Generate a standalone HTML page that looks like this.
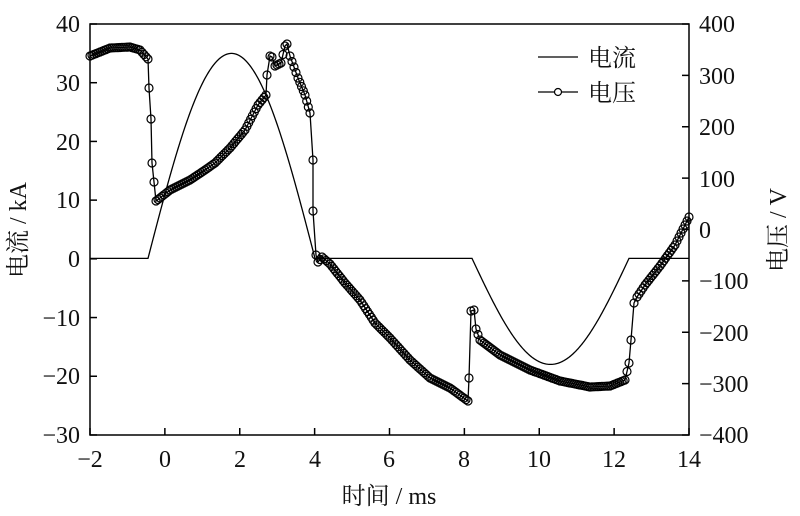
<!DOCTYPE html>
<html><head><meta charset="utf-8"><style>
body{margin:0;background:#fff}
svg{display:block}
text{font-family:"Liberation Serif","Noto Serif CJK SC",serif;font-size:24px;fill:#111}
</style></head><body>
<svg id="s" width="800" height="516" viewBox="0 0 800 516" xmlns="http://www.w3.org/2000/svg">
<rect x="90" y="24" width="599" height="411" fill="none" stroke="#000" stroke-width="1.5"/>
<g id="ticks" stroke="#000" stroke-width="1.5"></g>
<g text-anchor="middle">
<text x="90" y="467">−2</text><text x="165" y="467">0</text><text x="240" y="467">2</text><text x="315" y="467">4</text><text x="389" y="467">6</text><text x="464" y="467">8</text><text x="539" y="467">10</text><text x="614" y="467">12</text><text x="689" y="467">14</text>
</g>
<g text-anchor="end">
<text x="80" y="32">40</text><text x="80" y="91">30</text><text x="80" y="150">20</text><text x="80" y="208">10</text><text x="80" y="267">0</text><text x="80" y="326">−10</text><text x="80" y="384">−20</text><text x="80" y="443">−30</text>
</g>
<g text-anchor="start">
<text x="699" y="32">400</text><text x="699" y="84">300</text><text x="699" y="135">200</text><text x="699" y="187">100</text><text x="699" y="238">0</text><text x="699" y="289">−100</text><text x="699" y="341">−200</text><text x="699" y="392">−300</text><text x="699" y="443">−400</text>
</g>
<text x="389" y="504" text-anchor="middle">时间 / ms</text>
<text transform="translate(26,230) rotate(-90)" text-anchor="middle">电流 / kA</text>
<text transform="translate(786,230) rotate(-90)" text-anchor="middle">电压 / V</text>
<line x1="538" y1="57" x2="578" y2="57" stroke="#000" stroke-width="1.3"/>
<text x="588" y="66">电流</text>
<line x1="538" y1="92" x2="578" y2="92" stroke="#000" stroke-width="1.3"/>
<circle cx="558" cy="92" r="3.5" fill="#fff" stroke="#000" stroke-width="1.2"/>
<text x="588" y="101">电压</text>
<path id="cur" fill="none" stroke="#000" stroke-width="1.3"/>
<path id="vol" fill="none" stroke="#000" stroke-width="1.3"/>
<g id="mk" fill="none" stroke="#000" stroke-width="1.2"></g>
</svg>
<script>
var t=document.getElementById('ticks'),h='';
for(var i=0;i<=8;i++){var x=90+i*74.875;h+='<line x1="'+x+'" y1="435" x2="'+x+'" y2="428"/>';}
for(var i=0;i<=7;i++){var y=24+i*58.71;h+='<line x1="90" y1="'+y+'" x2="97" y2="'+y+'"/>';}
for(var i=0;i<=8;i++){var y=24+i*51.375;h+='<line x1="682" y1="'+y+'" x2="689" y2="'+y+'"/>';}
t.innerHTML=h;
var d='M90,258.4';
for(var x=148;x<=315;x+=1){d+=' L'+x+','+(258.4-205*Math.sin(Math.PI*(x-148)/(315-148)));}
d+=' L472,258.4';
for(var x=472;x<=629;x+=1){d+=' L'+x+','+(258.4+106*Math.sin(Math.PI*(x-472)/(629-472)));}
d+=' L689,258.4';
document.getElementById('cur').setAttribute('d',d);
var P=[[90,56],[110,48],[130,47],[140,50],[148,59],[149,88],[151,119],[152,163],[154,182],[156,201],[160,198],[170,190],[190,180],[205,170],[215,163],[230,148],[245,130],[258,105],[266,95],[267,75],[270,56],[272,57],[275,66],[281,63],[285,46],[287,44],[290,56],[298,78],[305,95],[310,113],[313,160],[313,211],[316,255],[318,262],[322,257],[330,264],[345,283],[360,300],[375,323],[390,338],[410,360],[430,378],[450,388],[468,401],[469,378],[471,311],[474,310],[476,329],[480,340],[500,355],[530,370],[560,381],[590,387],[610,386],[625,380],[629,363],[631,340],[634,303],[637,297],[645,285],[660,266],[675,245],[689,217]];
var vd='M'+P[0].join(',');var m='';
function c(x,y){m+='<circle cx="'+x.toFixed(1)+'" cy="'+y.toFixed(1)+'" r="4"/>';}
for(var i=0;i<P.length;i++){
 if(i>0)vd+=' L'+P[i].join(',');
 c(P[i][0],P[i][1]);
 if(i<P.length-1){var a=P[i],b=P[i+1],dx=b[0]-a[0];
  if(dx>3){var n=Math.round(dx/2);for(var k=1;k<n;k++){var f=k/n;c(a[0]+f*dx,a[1]+f*(b[1]-a[1]));}}}
}
document.getElementById('vol').setAttribute('d',vd);
document.getElementById('mk').innerHTML=m;
</script>
</body></html>
